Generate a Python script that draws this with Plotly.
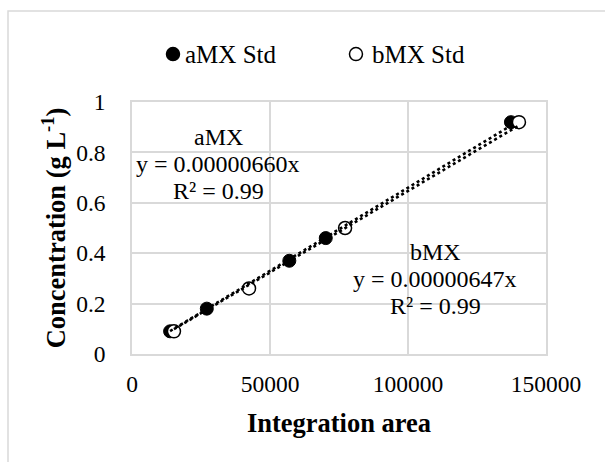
import plotly.graph_objects as go

# Calibration standards: integration area vs. concentration (g/L)
amx_area = [13800, 27100, 57000, 70200, 137300]
amx_conc = [0.09, 0.18, 0.37, 0.46, 0.92]
bmx_area = [15200, 42400, 77200, 140200]
bmx_conc = [0.09, 0.26, 0.50, 0.92]

# Linear fits through the origin
amx_slope = 0.00000660
bmx_slope = 0.00000647
amx_r2 = 0.99
bmx_r2 = 0.99

series_names = ["aMX Std", "bMX Std"]
x_ticks = [0, 50000, 100000, 150000]
y_ticks = [0, 0.2, 0.4, 0.6, 0.8, 1]

FONT = "Liberation Serif"
GRID = "#d9d9d9"
MARKER_SIZE = 13

fig = go.Figure()

fig.add_trace(go.Scatter(
    x=amx_area, y=amx_conc, mode="markers", name=series_names[0],
    marker=dict(symbol="circle", size=MARKER_SIZE, color="black",
                line=dict(color="black", width=1)),
))
fig.add_trace(go.Scatter(
    x=bmx_area, y=bmx_conc, mode="markers", name=series_names[1],
    marker=dict(symbol="circle", size=MARKER_SIZE, color="white",
                line=dict(color="black", width=1.5)),
))

# Dotted trendlines over the range of each standard series
for area, slope in ((amx_area, amx_slope), (bmx_area, bmx_slope)):
    xs = [min(area), max(area)]
    fig.add_trace(go.Scatter(
        x=xs, y=[slope * v for v in xs], mode="lines", showlegend=False,
        line=dict(color="black", width=2.6, dash="dot"), hoverinfo="skip",
    ))


def fit_label(name, slope, r2, x, y):
    lines = [name, f"y = {slope:.8f}x", f"R² = {r2:.2f}"]
    for i, txt in enumerate(lines):
        fig.add_annotation(
            x=x, y=y, xref="x", yref="y", text=txt, showarrow=False,
            xanchor="center", yanchor="middle", yshift=(1 - i) * 27,
            font=dict(family=FONT, size=24, color="black"),
        )


fit_label("aMX", amx_slope, amx_r2, 31200, 0.754)
fit_label("bMX", bmx_slope, bmx_r2, 109800, 0.298)

# Compact legend row above the plot: symbol followed closely by its label
legend_items = [
    (series_names[0], "black", 0.099, 0.123),
    (series_names[1], "white", 0.541, 0.575),
]
LEG_Y = 1.19
for label, fill, mx, tx in legend_items:
    r = MARKER_SIZE / 2
    fig.add_shape(type="circle", xref="paper", yref="paper",
                  xsizemode="pixel", ysizemode="pixel",
                  xanchor=mx, yanchor=LEG_Y, x0=-r, x1=r, y0=-r, y1=r,
                  fillcolor=fill, line=dict(color="black", width=1.5))
    fig.add_annotation(x=tx, y=LEG_Y, xref="paper", yref="paper", text=label,
                       showarrow=False, xanchor="left", yanchor="middle",
                       font=dict(family=FONT, size=25, color="black"))

# Light chart-area border
fig.add_shape(type="rect", xref="paper", yref="paper",
              x0=-0.2995, x1=1.3, y0=-0.6, y1=1.361,
              line=dict(color=GRID, width=1.5), fillcolor="rgba(0,0,0,0)",
              layer="below")

axis_common = dict(
    showgrid=True, gridcolor=GRID, gridwidth=1.5,
    showline=True, linecolor=GRID, linewidth=1.5, mirror=True,
    zeroline=False, ticks="",
    tickfont=dict(family=FONT, size=23.5, color="black"),
)

fig.update_layout(
    width=605, height=462, autosize=False,
    margin=dict(l=132, r=59, t=102, b=108),
    paper_bgcolor="white", plot_bgcolor="white",
    font=dict(family=FONT, size=23.5, color="black"),
    showlegend=False,
    xaxis=dict(
        range=[0, 150000], tickvals=x_ticks, tickformat="d",
        ticklabelstandoff=8,
        title=dict(text="<b>Integration area</b>",
                   font=dict(family=FONT, size=26.5, color="black"), standoff=17),
        **axis_common,
    ),
    yaxis=dict(
        range=[0, 1], tickvals=y_ticks, ticklabelstandoff=20,
        title=dict(text="<b>Concentration (g L<sup>-1</sup>)</b>",
                   font=dict(family=FONT, size=26.5, color="black"), standoff=3),
        **axis_common,
    ),
)

fig.write_html("out.html")
